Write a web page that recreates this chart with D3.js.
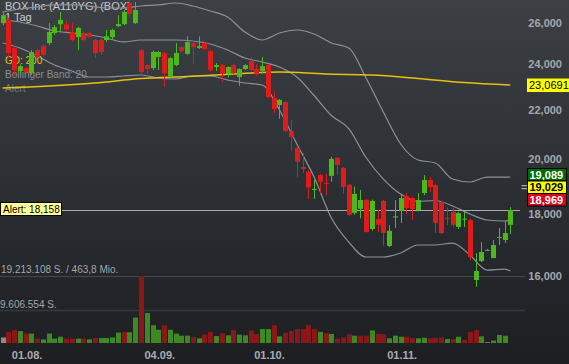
<!DOCTYPE html>
<html><head><meta charset="utf-8">
<script src="https://cdn.jsdelivr.net/npm/d3@7"></script>
<style>html,body{margin:0;padding:0;background:#2a2d31;overflow:hidden}svg{display:block}</style>
</head><body><svg id="c" width="569" height="364"></svg>
<script>
// ---------- DATA ----------
const openP = [25980,26140,24760,23700,23830,23600,24670,24860,25000,25490,
 25920,25900,25540,25290,25490,25490,25150,25150,25150,25290,
 25830,25930,27000,25980,24670,23970,23830,24350,24530,23470,
 23970,24810,24490,25000,24770,25000,24620,23880,23970,23560,
 23970,23420,23790,24150,23790,23700,23970,22500,22200,22330,
 21120,20450,19710,19530,18860,19410,19120,19380,20060,19680,
 19050,18050,18190,18500,17500,17840,18470,16940,17890,18115,
 18645,18572,18149,18750,19224,19040,18430,17870,18080,17570,
 17820,17804,15867,16455,16800,16550,17220,17133,17640];
const highP = [26540,26250,24860,24000,23880,24670,24720,24950,25980,25880,
 26540,26100,25980,25800,25560,25540,25200,25200,25640,25700,
 26380,26640,27150,27050,24720,24010,24640,24620,24580,24350,
 25000,24860,25330,25150,25330,25050,24670,24060,24010,23920,
 24010,23830,24010,24350,24010,24350,24010,22780,22460,22380,
 21570,20500,20250,19580,19230,19450,19450,20100,20100,19720,
 19090,18980,18860,18540,18520,18150,18500,17630,18500,18680,
 18750,18620,18750,19410,19330,19090,18480,18250,18220,18080,
 18080,17850,16710,17067,16840,17133,17530,17770,18250];
const lowP = [25880,24300,23480,23560,23560,23520,24300,24350,24900,25400,
 25540,25560,25100,24670,25100,25240,24300,24440,25050,25200,
 25780,25880,26300,25940,23480,23560,23740,23740,22980,23400,
 23920,24570,24440,24020,24720,24670,23650,23700,23200,23420,
 23560,23030,23740,23700,23470,23600,22500,21860,21620,21080,
 20330,19330,19490,18540,18540,18750,18680,19160,19420,18720,
 17950,17980,17860,17380,17440,17400,16950,16900,17540,17700,
 18010,17804,18100,18680,18790,17370,17330,17640,17570,17500,
 17570,16490,15660,16425,16780,16550,16970,17035,17330];
const closeP = [26380,24530,23740,23920,23650,24580,24350,24440,25540,25780,
 26140,25660,25150,25740,25150,25290,24530,24580,25330,25640,
 25930,26540,26440,26640,23650,23790,24580,24580,23600,24290,
 24530,24620,25050,24810,24860,24720,23740,23970,23560,23880,
 23600,23790,23970,23740,23600,23920,22540,22040,22420,21120,
 20880,19910,19640,18950,18900,19160,19090,20020,19790,18970,
 17980,18720,18500,17400,18470,17640,17370,17440,17930,18572,
 18220,18185,18501,19224,18970,17700,17365,17840,17640,18045,
 17850,16580,16145,16745,16815,16970,17235,17365,18149];
// volume in million shares
const volumeM = [1.6,3.2,3.7,3.4,2.7,2.7,1.25,1.05,2.7,1.25,
 1.8,1.25,1.25,1.25,1.25,1.05,1.45,1.45,1.45,1.6,
 3.0,3.2,3.1,7.3,19.213108,8.6,5.1,3.8,5.1,3.8,
 2.7,2.1,2.1,1.7,1.35,2.4,3.2,2.0,2.8,2.2,
 3.8,2.4,2.2,3.6,2.6,4.0,4.0,5.1,1.9,2.9,
 3.5,4.0,4.0,5.2,4.0,3.2,2.8,2.6,1.25,1.6,
 2.5,2.1,2.1,2.1,3.6,2.6,2.5,1.35,2.1,1.8,
 1.8,1.45,1.35,1.5,1.35,1.5,1.6,1.15,1.15,1.8,
 0.85,3.2,3.7,1.9,0.2,0.7,2.3,2.1,0];
// u = up, d = down, f = flat
const volumeDir = ["f","d","d","u","d","u","d","u","u","u",
 "u","d","d","u","d","u","d","u","u","u",
 "u","d","u","u","d","u","u","u","d","u",
 "u","u","u","d","u","d","d","u","d","u",
 "d","u","u","d","d","u","u","d","u","d",
 "d","d","d","d","d","u","d","u","d","d",
 "d","u","d","d","u","d","d","u","u","u",
 "d","d","u","u","d","d","d","u","d","u",
 "d","d","d","u","f","u","u","u","u"];
const bandIdx = [0,3,6,9,12,15,18,21,24,27,30,33,36,39,42,45,48,51,54,57,60,63,66,69,72,75,78,81,84,87,88];
const bandUpper = [26541,26694,26797,26900,26900,26848,26745,26745,26848,26900,27003,26848,26591,26285,25540,25151,25492,25638,25443,25008,24769,23382,21905,20601,19977,19863,19261,19151,19334,19334,19334];
const bandMiddle = [26135,26036,25837,25589,25492,25395,25248,25056,25151,25151,25151,25103,24960,24673,24298,24112,23882,23428,22610,21759,21222,20074,19261,18716,18448,18483,18290,18011,17804,17770,17804];
const bandLower = [25008,24769,24391,23973,23699,23428,23428,23473,23518,23382,23337,23473,23473,23292,23159,23071,21989,20601,19334,17873,17068,16584,16584,16712,16971,16971,17035,16648,16175,16206,16144];
const gdIdx = [0,8,16,24,32,40,48,56,64,72,80,88];
const gd200 = [22938,23026,23159,23360,23450,23563,23654,23563,23518,23360,23180,23069];
const tickIdx = [4,27,46,69];
const tickLabels = ["01.08.","04.09.","01.10.","01.11."];
const priceTicks = [16000,18000,20000,22000,24000,26000];
const alertValue = 18158;
const gdLabel = "23,0691";
const quoteLabels = ["19,089","19,029","18,969"];
const volMaxText = "19.213.108 S. / 463,8 Mio.";
const volMidText = "9.606.554 S.";
const volMax = 19213108, volMid = 9606554;

// ---------- CHART ----------
const W=569,H=364;
const FONT = "'Liberation Sans', Arial, sans-serif";
const svg=d3.select('#c').style('font-family',FONT);
const defs=svg.append('defs');
const grad=defs.append('linearGradient').attr('id','bg').attr('x1',0).attr('y1',0).attr('x2',0).attr('y2',1);
grad.append('stop').attr('offset','0%').attr('stop-color','#3c4045');
grad.append('stop').attr('offset','100%').attr('stop-color','#1c1e22');
svg.append('rect').attr('width',W).attr('height',H).attr('fill','url(#bg)');

const x=d3.scaleLinear().domain([0,88]).range([2.5,510.3]);
const y=d3.scaleLog().domain([16000,26000]).range([275.7,22.7]);
const yv=d3.scaleLinear().domain([0,volMax]).range([343,276]);

const RED='#e01b1b', GREEN='#4cb81b';
const VRED='#8a1818', VGREEN='#3d8a22', VGRAY='#8a8a8a';

// volume panel guide lines
svg.append('line').attr('x1',0).attr('x2',525).attr('y1',Math.round(yv(volMax))+0.5).attr('y2',Math.round(yv(volMax))+0.5).attr('stroke','#45484d');
svg.append('line').attr('x1',0).attr('x2',525).attr('y1',Math.round(yv(volMid))+0.5).attr('y2',Math.round(yv(volMid))+0.5).attr('stroke','#35383c').attr('stroke-width',1.5);

// legend texts
svg.append('text').attr('x',5).attr('y',9.5).attr('font-size',11).attr('fill','#c9cacc').text('BOX Inc (A110YG) (BOX)');
svg.append('text').attr('x',5).attr('y',21).attr('font-size',11).attr('fill','#c9cacc').text('1 Tag');

// bands
const band = arr => d3.line().x((d,k)=>x(bandIdx[k])).y(d=>y(d)).curve(d3.curveMonotoneX)(arr);
[bandUpper,bandMiddle,bandLower].forEach(a=>{
  svg.append('path').attr('d',band(a)).attr('fill','none').attr('stroke','#8d9095').attr('stroke-width',1.2);
});

svg.append('text').attr('x',5).attr('y',64).attr('font-size',10).attr('fill','#e2c11c').text('GD: 200');
svg.append('text').attr('x',5).attr('y',78).attr('font-size',10).attr('fill','#8a8d91').text('Bollinger Band: 20');
svg.append('text').attr('x',5).attr('y',92).attr('font-size',10).attr('fill','#75787c').text('Alert');

// GD 200
svg.append('path')
  .attr('d',d3.line().x((d,k)=>x(gdIdx[k])).y(d=>y(d)).curve(d3.curveMonotoneX)(gd200))
  .attr('fill','none').attr('stroke','#e8c20a').attr('stroke-width',1.5);

// alert line
const ya=Math.round(y(alertValue))+0.5;
svg.append('line').attr('x1',61).attr('x2',520).attr('y1',ya).attr('y2',ya).attr('stroke','#a9abae').attr('stroke-width',1);
svg.append('rect').attr('x',0.5).attr('y',ya-8).attr('width',61).attr('height',13).attr('fill','#ffff99').attr('stroke','#000');
svg.append('text').attr('x',3).attr('y',ya+2.5).attr('font-size',10).attr('fill','#000').text('Alert: '+d3.format(',')(alertValue));

// candles
const idx=d3.range(openP.length);
const cg=svg.append('g');
idx.forEach(i=>{
  const cx=Math.round(x(i));
  const up=closeP[i]>=openP[i];
  const col=up?GREEN:RED;
  cg.append('line').attr('x1',cx+0.5).attr('x2',cx+0.5).attr('y1',y(highP[i])).attr('y2',y(lowP[i])).attr('stroke',col).attr('stroke-width',1);
  const t=y(Math.max(openP[i],closeP[i])), b=y(Math.min(openP[i],closeP[i]));
  cg.append('rect').attr('x',cx-2).attr('width',5).attr('y',t).attr('height',Math.max(1,b-t)).attr('fill',col);
});

// volume
const vg=svg.append('g');
idx.forEach(i=>{
  if(!volumeM[i]) return;
  const v=volumeM[i]*1e6;
  const cx=Math.round(x(i));
  const c=volumeDir[i]==='u'?VGREEN:(volumeDir[i]==='d'?VRED:VGRAY);
  vg.append('rect').attr('x',cx-2).attr('width',5).attr('y',yv(v)).attr('height',yv(0)-yv(v)).attr('fill',c);
});
svg.append('text').attr('x',1).attr('y',273).attr('font-size',10).attr('fill','#a3a6aa').text(volMaxText);
svg.append('text').attr('x',0).attr('y',308).attr('font-size',10).attr('fill','#a3a6aa').text(volMidText);

// x axis labels
tickIdx.forEach((t,k)=>{
  svg.append('text').attr('x',x(t)+1.5).attr('y',359).attr('text-anchor','middle').attr('font-size',11).attr('font-weight','bold').attr('fill','#a9acb0').text(tickLabels[k]);
});

// y axis labels
priceTicks.forEach(p=>{
  svg.append('text').attr('x',562).attr('y',y(p)+4).attr('text-anchor','end').attr('font-size',11).attr('font-weight','bold').attr('fill','#a5a8ac').text(d3.format(',')(p));
});

// GD value box
const yg=y(gd200[gd200.length-1]);
svg.append('rect').attr('x',527).attr('y',yg-6.5).attr('width',43).attr('height',13.5).attr('fill','#ffff00');
svg.append('text').attr('x',529).attr('y',yg+4).attr('font-size',11).attr('fill','#000').text(gdLabel);

// quote boxes
const qFill=['#006b00','#ffff00','#e0001b'], qText=['#fff','#000','#fff'];
quoteLabels.forEach((q,k)=>{
  const top=168.5+k*12.5;
  svg.append('rect').attr('x',527.5).attr('y',top).attr('width',39).attr('height',12.5).attr('fill',qFill[k]).attr('stroke','#000');
  svg.append('text').attr('x',529.5).attr('y',top+10).attr('font-size',11).attr('font-weight','bold').attr('fill',qText[k]).text(q);
});
svg.append('text').attr('x',521).attr('y',191).attr('font-size',11).attr('font-weight','bold').attr('fill','#a5a8ac').text('=');
</script></body></html>
